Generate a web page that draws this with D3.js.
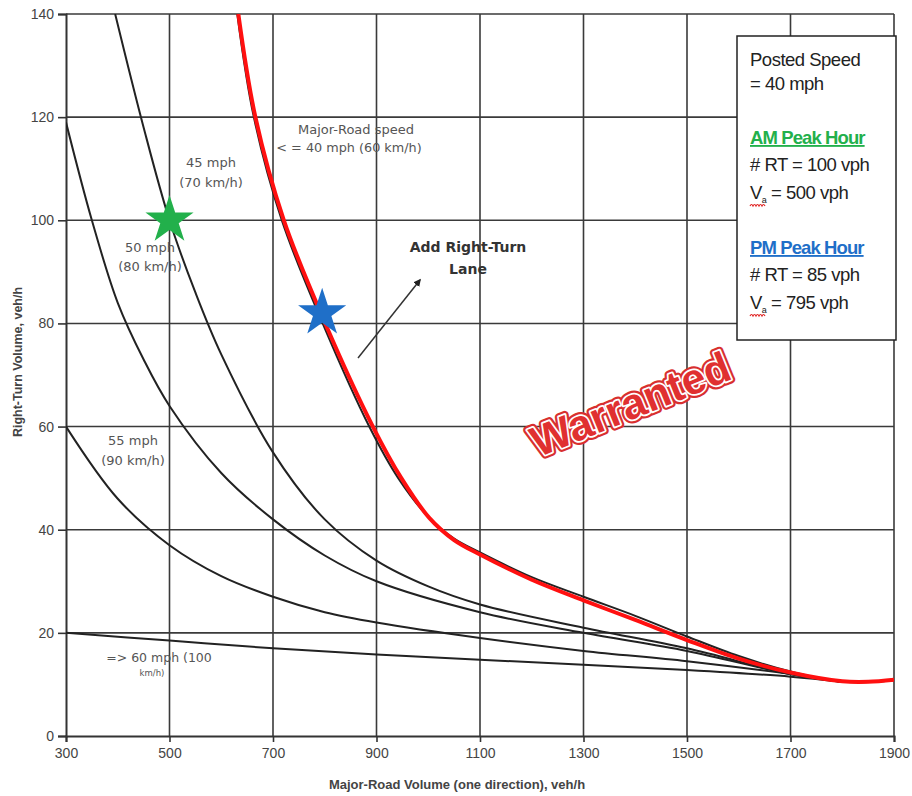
<!DOCTYPE html>
<html><head><meta charset="utf-8">
<script src="https://cdn.jsdelivr.net/npm/d3@7/dist/d3.min.js"></script>
<style>body{margin:0;background:#fff}svg{display:block;font-family:"Liberation Sans",Arial,sans-serif}</style>
</head><body><svg id="c" width="912" height="796"></svg>
<script>
const xTicks = [300,500,700,900,1100,1300,1500,1700,1900];
const yTicks = [0,20,40,60,80,100,120,140];
const curve40 = [[631,140],[663,120],[717,100],[796,80],[886,60],[942,50],[1000,42.5],[1050,38.3],[1100,35.6],[1200,30.8],[1300,27],[1400,23.3],[1500,19.3],[1600,15.5],[1700,12.5],[1800,10.5],[1900,10.8]];
const curveRed = [[633,140],[666,120],[721,100],[801,80],[893,60],[948,50],[1002,42.3],[1050,38],[1100,35.2],[1200,30.3],[1300,26.3],[1400,22.5],[1500,18.6],[1600,15],[1700,12.3],[1800,10.6],[1850,10.5],[1900,10.9]];
const curve45 = [[395,140],[450,118],[500,100],[550,86],[600,74],[700,55],[800,42],[900,34],[1000,29],[1100,25.5],[1300,21],[1500,17],[1700,12],[1800,10.5]];
const curve50 = [[300,119],[350,100],[400,84],[450,73],[500,64],[600,51],[700,42],[800,35],[900,30],[1100,24],[1300,20],[1500,16.5],[1700,12],[1800,10.5]];
const curve55 = [[300,60],[400,46],[500,37],[600,31],[700,27],[800,24],[900,22],[1100,19],[1300,16.5],[1500,14.5],[1700,12],[1800,10.5]];
const curve60 = [[300,20],[500,18.5],[700,17],[900,15.8],[1100,14.8],[1300,13.8],[1500,12.8],[1700,11.5],[1800,10.5]];
const amPoint = [500,100];
const pmPoint = [795,82];
const legendLines = ["Posted Speed","= 40 mph","AM Peak Hour","# RT = 100 vph","= 500 vph","PM Peak Hour","# RT = 85 vph","= 795 vph"];

const svg = d3.select("#c");
const L=66,R=894,T=14,B=736;
const x = d3.scaleLinear().domain([300,1900]).range([L,R]);
const y = d3.scaleLinear().domain([0,140]).range([B,T]);

svg.append("defs").append("clipPath").attr("id","clip").append("rect")
  .attr("x",L).attr("y",T).attr("width",R-L).attr("height",B-T);

// grid
const g = svg.append("g");
g.selectAll("line.v").data(xTicks.slice(1)).join("line")
  .attr("x1",d=>x(d)).attr("x2",d=>x(d)).attr("y1",T).attr("y2",B)
  .attr("stroke","#3a3a3a").attr("stroke-width",1.6);
g.selectAll("line.h").data(yTicks.slice(1)).join("line")
  .attr("x1",L).attr("x2",R).attr("y1",d=>y(d)).attr("y2",d=>y(d))
  .attr("stroke","#3a3a3a").attr("stroke-width",1.6);

// axes
const xAxis = d3.axisBottom(x).tickValues(xTicks).tickFormat(d3.format("d")).tickSize(6).tickPadding(6);
const yAxis = d3.axisLeft(y).tickValues(yTicks).tickFormat(d3.format("d")).tickSize(8).tickPadding(4);
const gx = svg.append("g").attr("transform",`translate(0,${B})`).call(xAxis);
const gy = svg.append("g").attr("transform",`translate(${L},0)`).call(yAxis);
[gx,gy].forEach(a=>{
  a.select(".domain").attr("stroke","#333").attr("stroke-width",2);
  a.selectAll(".tick line").attr("stroke","#333").attr("stroke-width",1.6);
  a.selectAll(".tick text").attr("font-size",14).attr("fill","#444").style("font-family","Liberation Sans, Arial");
});

const line = d3.line().x(d=>x(d[0])).y(d=>y(d[1])).curve(d3.curveCatmullRom.alpha(0.5));
const cg = svg.append("g").attr("clip-path","url(#clip)");
[curve60,curve55,curve50,curve45,curve40].forEach(c=>{
  cg.append("path").attr("d",line(c)).attr("fill","none").attr("stroke","#222").attr("stroke-width",2);
});
cg.append("path").attr("d",line(curveRed)).attr("fill","none").attr("stroke","#ff1010").attr("stroke-width",4);

// curve labels
function lbl(lines,cx,cy,fs,dy,weight,fill){
  const t=svg.append("text").attr("text-anchor","middle").attr("font-size",fs).attr("fill",fill||"#555")
    .attr("font-weight",weight||"normal").style("font-family","'DejaVu Sans', Verdana, sans-serif");
  lines.forEach((s,i)=>t.append("tspan").attr("x",cx).attr("y",cy+i*dy).text(s));
}
lbl(["Major-Road speed"],356,134,13,0);
lbl(["< = 40 mph (60 km/h)"],349,152,12.8,0);
lbl(["45 mph","(70 km/h)"],211,167,13,20);
lbl(["50 mph","(80 km/h)"],150,252,13,19);
lbl(["55 mph","(90 km/h)"],133,445,13,20);
lbl(["=> 60 mph (100"],159,662,12.5,0);
lbl(["km/h)"],152,676,8.5,0);
lbl(["Add Right-Turn","Lane"],468,252,14,22,"bold","#333");

// arrow
svg.append("defs").append("marker").attr("id","ah").attr("viewBox","0 0 10 10").attr("refX",8).attr("refY",5)
  .attr("markerWidth",5).attr("markerHeight",5).attr("orient","auto")
  .append("path").attr("d","M0,0L10,5L0,10z").attr("fill","#222");
svg.append("line").attr("x1",358).attr("y1",358).attr("x2",420).attr("y2",280)
  .attr("stroke","#333").attr("stroke-width",1.5).attr("marker-end","url(#ah)");

// stars
const star = d3.symbol().type(d3.symbolStar).size(720);
svg.append("path").attr("d",star()).attr("transform",`translate(${x(amPoint[0])},${y(amPoint[1])})`).attr("fill","#22b04b");
svg.append("path").attr("d",star()).attr("transform",`translate(${x(pmPoint[0])},${y(pmPoint[1])})`).attr("fill","#1f6fc8");

// Warranted
const wg = svg.append("g").attr("transform","translate(636,418) rotate(-22)");
[0,1,2].forEach(i=>{
  const t=wg.append("text").attr("text-anchor","middle").attr("font-size",43).attr("font-weight","bold")
   .style("font-family","'Liberation Sans', Arial, sans-serif").text("Warranted");
  if(i===0) t.attr("fill","#d82f2f").attr("stroke","#d82f2f").attr("stroke-width",8).attr("stroke-linejoin","round");
  if(i===1) t.attr("fill","#fff").attr("stroke","#fff").attr("stroke-width",3.5).attr("stroke-linejoin","round");
  if(i===2) t.attr("fill","#e03030");
});

// legend box
svg.append("rect").attr("x",737).attr("y",36).attr("width",159).attr("height",304).attr("fill","#fff").attr("stroke","#222").attr("stroke-width",1.5);
const lx=750, fs=18.5;
const lys=[66,90,144,171,199,254,281,309];
legendLines.forEach((s,i)=>{
  const t=svg.append("text").attr("x",lx).attr("y",lys[i]).attr("font-size",fs).attr("fill","#222").attr("letter-spacing",-0.5);
  if(i===2||i===5){
    t.attr("font-weight","bold").attr("fill",i===2?"#22b04b":"#1f6fc8").attr("text-decoration","underline").attr("letter-spacing",-0.9).text(s);
  } else if(i===4||i===7){
    t.append("tspan").text("V");
    t.append("tspan").attr("font-size",9).attr("dy",4).text("a");
    t.append("tspan").attr("dy",-4).text(" "+s);
    let p="M"+(lx)+","+(lys[i]+7);
    for(let k=0;k<5;k++){p+=" q1.5,-3 3,0";}
    svg.append("path").attr("d",p).attr("fill","none").attr("stroke","#e02020").attr("stroke-width",1.2);
  } else t.text(s);
});

// axis titles
svg.append("text").attr("x",457).attr("y",789).attr("text-anchor","middle").attr("font-size",13).attr("font-weight","bold").attr("fill","#444")
  .text("Major-Road Volume (one direction), veh/h");
svg.append("text").attr("transform","translate(22,362) rotate(-90)").attr("text-anchor","middle").attr("font-size",12.5).attr("font-weight","bold").attr("fill","#444")
  .text("Right-Turn Volume, veh/h");
</script></body></html>
